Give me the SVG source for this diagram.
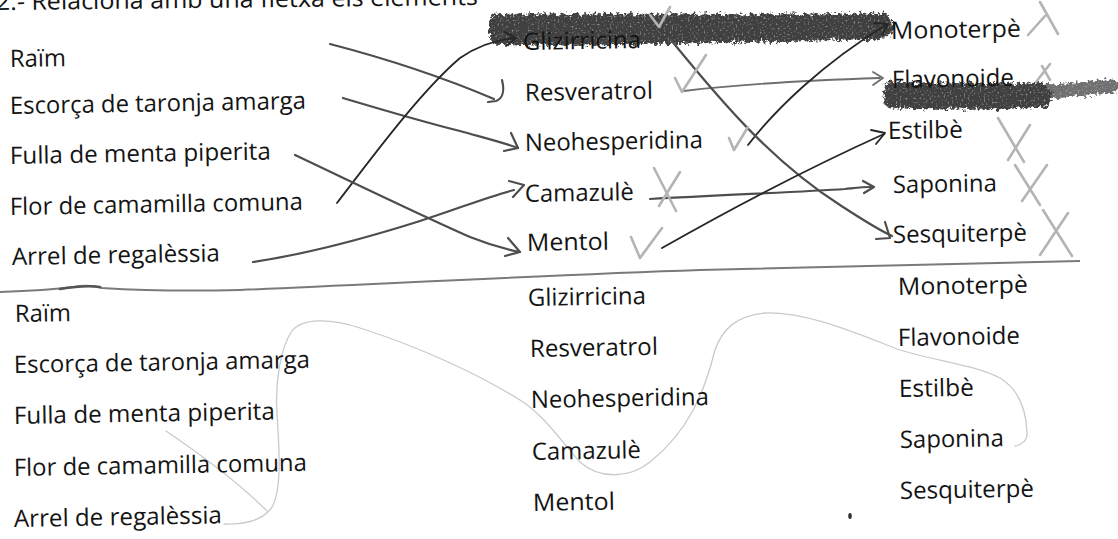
<svg xmlns="http://www.w3.org/2000/svg" width="1118" height="539" viewBox="0 0 1118 539">
<defs>
<style>
.t{font-family:"Open Sans","Liberation Sans",sans-serif;font-size:24px;fill:#141414}
.c{fill:none;stroke-linecap:round;stroke-linejoin:round}
.dk{stroke:#262626;stroke-width:1.8}
.md{stroke:#4e4e4e;stroke-width:2.2}
.lt{stroke:#6e6e6e;stroke-width:1.8}
.mk{fill:none;stroke:#b4b4b4;stroke-width:2.6;stroke-linecap:round;stroke-linejoin:round}
.fa{fill:none;stroke:#cacaca;stroke-width:1.3;stroke-linecap:round}
.sc{fill:none;stroke:#404040;stroke-linecap:round}
</style>
<filter id="crayon" x="-5%" y="-60%" width="110%" height="220%">
<feTurbulence type="fractalNoise" baseFrequency="0.3" numOctaves="3" seed="4" result="n"/>
<feDisplacementMap in="SourceGraphic" in2="n" scale="9" xChannelSelector="R" yChannelSelector="G" result="d"/>
<feTurbulence type="fractalNoise" baseFrequency="0.5" numOctaves="2" seed="9" result="g"/>
<feColorMatrix in="g" type="matrix" values="0 0 0 0 0  0 0 0 0 0  0 0 0 0 0  1.6 0 0 0 0.3" result="ga"/>
<feComposite in="d" in2="ga" operator="in"/>
</filter>
</defs>
<rect width="1118" height="539" fill="#ffffff"/>

<g id="header">
<text class="t" x="-4" y="10" textLength="482" lengthAdjust="spacingAndGlyphs" transform="rotate(-0.6 0 10)">2.- Relaciona amb una fletxa els elements</text>
</g>

<g id="scribbles" filter="url(#crayon)">
<path class="sc" d="M497,29 C600,30 750,28 885,27" stroke-width="19"/>
<path class="sc" d="M497,20 C600,19 750,21 885,19" stroke-width="13" stroke-dasharray="1 10"/>
<path class="sc" d="M497,39 C560,41 650,39 885,34" stroke-width="12" stroke-dasharray="1 9"/>
<path class="sc" d="M890,95 C950,96 1000,97 1045,95" stroke-width="15"/>
<path class="sc" d="M890,87 C950,88 1000,88 1045,88" stroke-width="11" stroke-dasharray="1 9"/>
<path class="sc" d="M890,103 C950,105 1000,105 1045,102" stroke-width="11" stroke-dasharray="1 8"/>
<path class="sc" d="M1045,92 C1070,90 1095,88 1116,86" stroke-width="14" stroke-dasharray="7 5" opacity="0.75"/>
</g>

<g id="separator">
<path d="M0,292 C30,291 58,289 74,287 C84,285 92,285 102,288 C150,291 200,291 240,290 C400,283 550,275 700,270 C850,266 1000,262 1080,261" fill="none" stroke="#7a7a7a" stroke-width="2"/>
<path d="M60,289 C72,287 86,285 100,287" fill="none" stroke="#555" stroke-width="2.6" stroke-linecap="round"/>
</g>

<g id="faint-wave">
<path class="fa" d="M224,524 C242,525 260,521 270,510 C283,494 279,445 277,414 C275,384 280,348 292,331 C302,318 330,318 360,328 C420,347 480,375 520,400 C545,416 560,440 580,462 C600,480 630,478 650,462 C690,430 705,390 715,350 C722,330 735,316 765,313 C810,312 860,335 900,350 C940,362 975,365 1000,378 C1020,390 1026,410 1027,432 C1028,440 1022,445 1015,446"/>
<path class="fa" d="M166,431 C200,454 240,484 267,511"/>
</g>

<g id="left-top">
<g id="n-raim"><text class="t" x="10" y="67" textLength="56" lengthAdjust="spacingAndGlyphs" transform="rotate(-1 10 67)">Raïm</text></g>
<g id="n-escorca"><text class="t" x="10" y="114" textLength="296" lengthAdjust="spacingAndGlyphs" transform="rotate(-1 10 114)">Escorça de taronja amarga</text></g>
<g id="n-fulla"><text class="t" x="10" y="164" textLength="261" lengthAdjust="spacingAndGlyphs" transform="rotate(-1 10 164)">Fulla de menta piperita</text></g>
<g id="n-flor"><text class="t" x="10" y="215" textLength="293" lengthAdjust="spacingAndGlyphs" transform="rotate(-1 10 215)">Flor de camamilla comuna</text></g>
<g id="n-arrel"><text class="t" x="12" y="265" textLength="208" lengthAdjust="spacingAndGlyphs" transform="rotate(-1 12 265)">Arrel de regalèssia</text></g>
</g>

<g id="mid-top">
<g id="n-glizirricina"><text class="t" x="523" y="50" textLength="118" lengthAdjust="spacingAndGlyphs" transform="rotate(-1 523 50)">Glizirricina</text></g>
<g id="n-resveratrol"><text class="t" x="525" y="101" textLength="128" lengthAdjust="spacingAndGlyphs" transform="rotate(-1 525 101)">Resveratrol</text></g>
<g id="n-neohesperidina"><text class="t" x="525" y="151" textLength="178" lengthAdjust="spacingAndGlyphs" transform="rotate(-1 525 151)">Neohesperidina</text></g>
<g id="n-camazule"><text class="t" x="525" y="202" textLength="109" lengthAdjust="spacingAndGlyphs" transform="rotate(-1 525 202)">Camazulè</text></g>
<g id="n-mentol"><text class="t" x="527" y="251" textLength="82" lengthAdjust="spacingAndGlyphs" transform="rotate(-1 527 251)">Mentol</text></g>
</g>

<g id="right-top">
<g id="n-monoterpe"><text class="t" x="891" y="39" textLength="130" lengthAdjust="spacingAndGlyphs" transform="rotate(-1 891 39)">Monoterpè</text></g>
<g id="n-flavonoide"><text class="t" x="892" y="88" textLength="122" lengthAdjust="spacingAndGlyphs" transform="rotate(-1 892 88)">Flavonoide</text></g>
<g id="n-estilbe"><text class="t" x="888" y="139" textLength="75" lengthAdjust="spacingAndGlyphs" transform="rotate(-1 888 139)">Estilbè</text></g>
<g id="n-saponina"><text class="t" x="893" y="193" textLength="104" lengthAdjust="spacingAndGlyphs" transform="rotate(-1 893 193)">Saponina</text></g>
<g id="n-sesquiterpe"><text class="t" x="893" y="243" textLength="134" lengthAdjust="spacingAndGlyphs" transform="rotate(-1 893 243)">Sesquiterpè</text></g>
</g>

<g id="left-bottom">
<g id="b-raim"><text class="t" x="15" y="322" textLength="56" lengthAdjust="spacingAndGlyphs" transform="rotate(-1 15 322)">Raïm</text></g>
<g id="b-escorca"><text class="t" x="14" y="373" textLength="296" lengthAdjust="spacingAndGlyphs" transform="rotate(-1 14 373)">Escorça de taronja amarga</text></g>
<g id="b-fulla"><text class="t" x="14" y="424" textLength="261" lengthAdjust="spacingAndGlyphs" transform="rotate(-1 14 424)">Fulla de menta piperita</text></g>
<g id="b-flor"><text class="t" x="14" y="476" textLength="293" lengthAdjust="spacingAndGlyphs" transform="rotate(-1 14 476)">Flor de camamilla comuna</text></g>
<g id="b-arrel"><text class="t" x="14" y="527" textLength="208" lengthAdjust="spacingAndGlyphs" transform="rotate(-1 14 527)">Arrel de regalèssia</text></g>
</g>

<g id="mid-bottom">
<g id="b-glizirricina"><text class="t" x="528" y="306" textLength="118" lengthAdjust="spacingAndGlyphs" transform="rotate(-1 528 306)">Glizirricina</text></g>
<g id="b-resveratrol"><text class="t" x="530" y="357" textLength="128" lengthAdjust="spacingAndGlyphs" transform="rotate(-1 530 357)">Resveratrol</text></g>
<g id="b-neohesperidina"><text class="t" x="531" y="408" textLength="178" lengthAdjust="spacingAndGlyphs" transform="rotate(-1 531 408)">Neohesperidina</text></g>
<g id="b-camazule"><text class="t" x="532" y="460" textLength="109" lengthAdjust="spacingAndGlyphs" transform="rotate(-1 532 460)">Camazulè</text></g>
<g id="b-mentol"><text class="t" x="533" y="511" textLength="82" lengthAdjust="spacingAndGlyphs" transform="rotate(-1 533 511)">Mentol</text></g>
</g>

<g id="right-bottom">
<g id="b-monoterpe"><text class="t" x="898" y="295" textLength="130" lengthAdjust="spacingAndGlyphs" transform="rotate(-1 898 295)">Monoterpè</text></g>
<g id="b-flavonoide"><text class="t" x="898" y="346" textLength="122" lengthAdjust="spacingAndGlyphs" transform="rotate(-1 898 346)">Flavonoide</text></g>
<g id="b-estilbe"><text class="t" x="899" y="397" textLength="75" lengthAdjust="spacingAndGlyphs" transform="rotate(-1 899 397)">Estilbè</text></g>
<g id="b-saponina"><text class="t" x="900" y="448" textLength="104" lengthAdjust="spacingAndGlyphs" transform="rotate(-1 900 448)">Saponina</text></g>
<g id="b-sesquiterpe"><text class="t" x="900" y="499" textLength="134" lengthAdjust="spacingAndGlyphs" transform="rotate(-1 900 499)">Sesquiterpè</text></g>
</g>

<g id="connectors">
<path class="c md" d="M330,44 C380,57 440,76 494,99"/>
<path class="c md" d="M502,80 C505,92 502,99 496,101 L488,102"/>
<path class="c md" d="M343,98 C380,109 420,121 460,131 C485,138 505,143 518,148"/>
<path class="c md" d="M511,133 L518,148 L504,151"/>
<path class="c dk" d="M337,203 C370,160 420,92 460,58 C477,46 493,40 515,38"/>
<path class="c dk" d="M505,32 L516,38 L506,46"/>
<path class="c md" d="M295,155 C350,181 420,215 470,237 C490,245 505,249 520,252"/>
<path class="c md" d="M508,238 L520,252 L505,256"/>
<path class="c md" d="M253,262 C300,255 360,240 420,221 C460,208 490,196 514,190"/>
<path class="c md" d="M509,181 L524,185 L513,197"/>
<path class="c lt" d="M684,91 C740,84 820,80 880,78"/>
<path class="c lt" d="M873,72 L883,78 L873,85"/>
<path class="c dk" d="M748,145 C775,110 822,64 886,25"/>
<path class="c dk" d="M874,23 L888,24 L882,35"/>
<path class="c md" d="M671,40 C720,100 770,160 840,205 C860,218 875,228 892,236"/>
<path class="c md" d="M885,222 L890,238 L876,239"/>
<path class="c md" d="M650,199 C720,195 800,192 845,189 C855,188 862,187 871,187"/>
<path class="c md" d="M863,181 L874,187 L864,193"/>
<path class="c dk" d="M662,248 C720,215 800,172 884,134"/>
<path class="c dk" d="M871,130 L885,133 L876,144"/>
</g>

<g id="marks">
<path class="mk" d="M650,15 L659,27 L670,7"/>
<path class="mk" d="M1028,35 L1045,16 M1040,2 L1058,34"/>
<path class="mk" d="M675,78 L682,92 L706,55"/>
<path class="mk" d="M1036,82 L1050,64 M1042,66 L1050,80"/>
<path class="mk" d="M729,138 L734,150 L748,127"/>
<path class="mk" d="M998,118 L1024,162 M1008,160 L1030,125"/>
<path class="mk" d="M654,168 L676,211 M659,206 L680,172"/>
<path class="mk" d="M1015,165 L1040,205 M1022,201 L1047,165"/>
<path class="mk" d="M631,237 L640,258 L662,228"/>
<path class="mk" d="M1040,255 L1068,213 M1043,210 L1072,256"/>
</g>

<g id="dot"><ellipse cx="850" cy="516" rx="1.8" ry="3" fill="#333"/></g>
</svg>
